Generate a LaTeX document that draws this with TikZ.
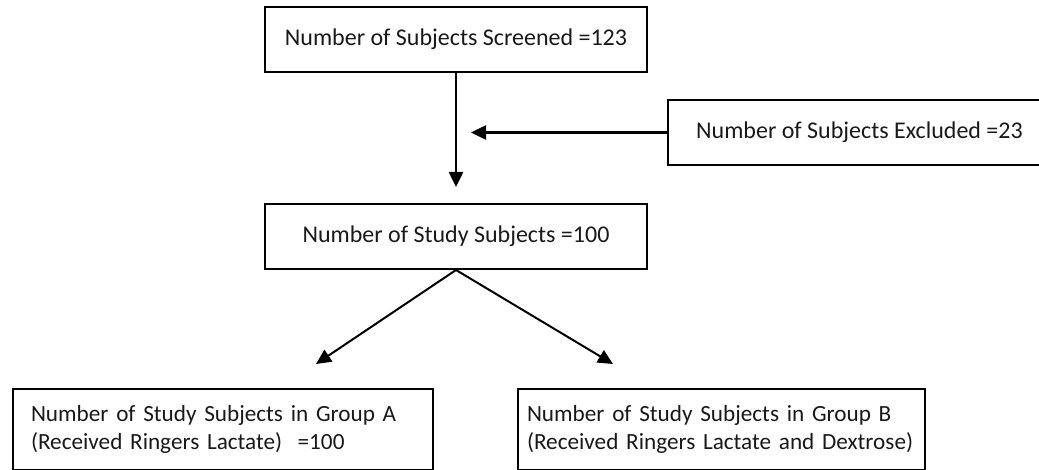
\documentclass[tikz,border=0pt]{standalone}
\usepackage{fontspec}
\setmainfont{Carlito}
\usetikzlibrary{arrows.meta}
\tikzset{
  caja/.style={draw, line width=2pt, font=\fontsize{24}{28}\selectfont, text=black!90},
  cajagrupo/.style={caja, anchor=north west, align=left, minimum height=81pt,
    font=\fontsize{23.2}{28}\selectfont},
  flecha/.style={line width=2.5pt, -{Triangle[length=15pt,width=14pt]}},
  flechadiag/.style={line width=2pt, -{Triangle[length=15pt,width=14pt]}},
}
\begin{document}
\begin{tikzpicture}[x=1pt,y=-1pt]
  % Marco del dibujo (la caja de excluidos se corta a la derecha)
  \useasboundingbox (0,0) rectangle (1039,470);
  \clip (0,0) rectangle (1039,470);

  % Cajas principales
  \node[caja, minimum width=382pt, minimum height=65pt] (tamizados) at (456,39.5)
    {Number of Subjects Screened =123};
  \node[caja, minimum width=383pt, minimum height=65pt] (excluidos) at (859.5,132.5)
    {Number of Subjects Excluded =23};
  \node[caja, minimum width=382pt, minimum height=65pt] (estudio) at (456,236.5)
    {Number of Study Subjects =100};

  % Grupos
  \node[cajagrupo, inner xsep=18pt, text width=384pt] (grupoA) at (12,388)
    {Number of Study Subjects in Group A\\(Received Ringers Lactate)\ \ =100};
  \node[cajagrupo, inner xsep=9pt, text width=389pt] (grupoB) at (517,388)
    {Number of Study Subjects in Group B\\(Received Ringers Lactate and Dextrose)};

  % Puntas libres de las flechas
  \coordinate (finvert) at (tamizados.south |- 0,187);
  \coordinate (finhoriz) at (471,132.5);
  \coordinate (finA) at (316,364);
  \coordinate (finB) at (613,364);

  % Flechas
  \draw[flecha] (tamizados.south) -- (finvert);
  \draw[flecha] (excluidos.west) -- (finhoriz);
  \draw[flechadiag] (estudio.south) -- (finA);
  \draw[flechadiag] (estudio.south) -- (finB);
\end{tikzpicture}
\end{document}
